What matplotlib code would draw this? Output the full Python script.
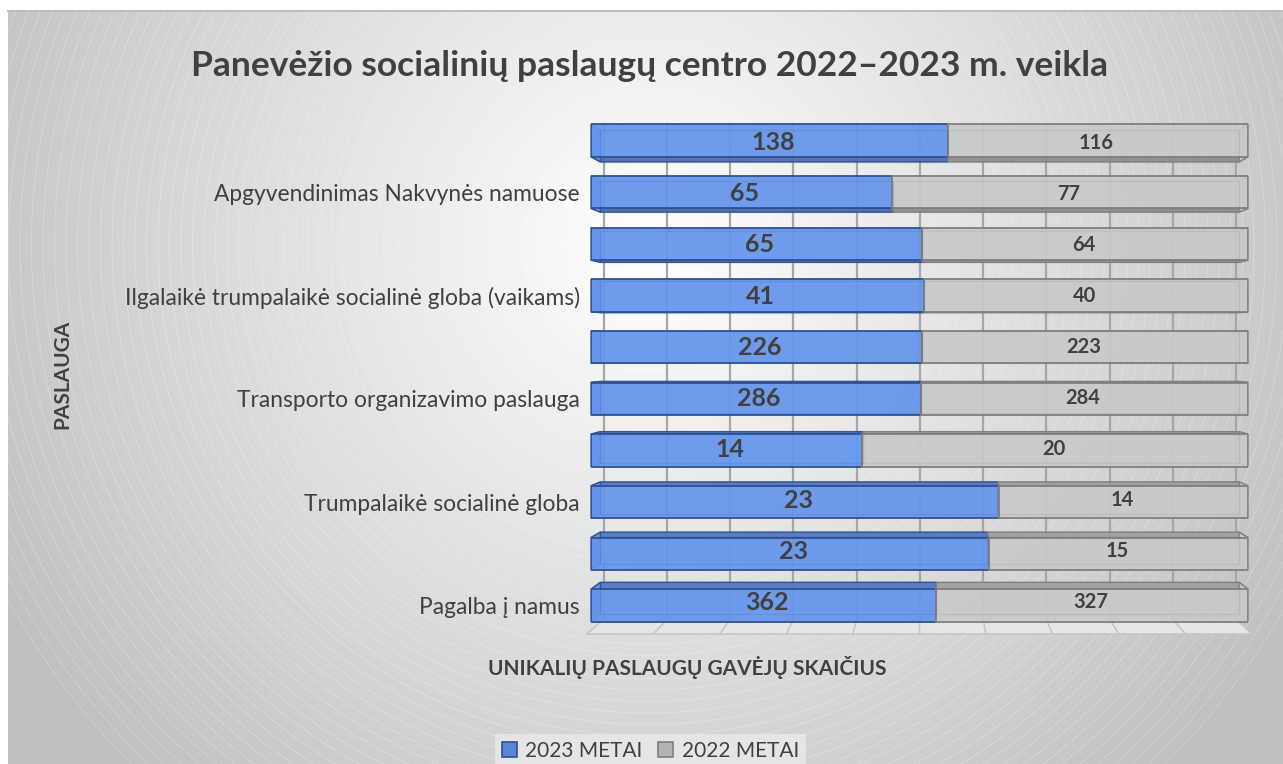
import numpy as np
import matplotlib
matplotlib.use("Agg")
import matplotlib.pyplot as plt
from matplotlib.patches import Polygon, Patch

plt.rcParams['font.family'] = ['Lato', 'Noto Sans', 'DejaVu Sans']

# ---- data (bottom to top; unlabeled rows are categories whose labels the chart skips)
categories = ["Pagalba į namus", "", "Trumpalaikė socialinė globa", "",
              "Transporto organizavimo paslauga", "",
              "Ilgalaikė trumpalaikė socialinė globa (vaikams)", "",
              "Apgyvendinimas Nakvynės namuose", ""]
values_2023 = [362, 23, 23, 14, 286, 226, 41, 65, 65, 138]
values_2022 = [327, 15, 14, 20, 284, 223, 40, 64, 77, 116]
series_names = ["2023 METAI", "2022 METAI"]
title = "Panevėžio socialinių paslaugų centro 2022–2023 m. veikla"
xlabel = "UNIKALIŲ PASLAUGŲ GAVĖJŲ SKAIČIUS"
ylabel = "PASLAUGA"

W, H = 1283, 764
INK = "#404040"
BLUE, BLUE_E, BLUE_TOP, BLUE_BOT = "#6595ec", "#2f528f", "#5279c4", "#4d6dab"
GREY, GREY_E, GREY_TOP, GREY_BOT = "#c9c9c9", "#7f7f7f", "#a0a0a0", "#8e8e8e"

fig = plt.figure(figsize=(W / 100, H / 100), dpi=100, facecolor="white")

# background panel: radial gradient with faint concentric rings
bg = fig.add_axes([0, 0, 1, 1], zorder=0)
yy, xx = np.mgrid[0:H, 0:W]
r = np.hypot(xx - 648, yy - 245)
RMAX = 732
shade = 1.0 - 0.247 * np.clip(r / RMAX, 0, 1)
d = (RMAX - r) % 11.5
d = np.minimum(d, 11.5 - d)
rings = np.exp(-(d / 0.6) ** 2) * 0.045 * np.clip((r - 150) / 450, 0.05, 1) * (r < RMAX + 1)
img = np.clip(shade + rings, 0, 1)
bg.imshow(img, cmap="gray", vmin=0, vmax=1, extent=(0, W, H, 0), aspect="auto", interpolation="bilinear")
bg.add_patch(plt.Rectangle((0, 0), 8, H, color="white", lw=0))
bg.add_patch(plt.Rectangle((0, 0), W, 10, color="white", lw=0))
bg.plot([8, W], [11, 11], color="#bdbdbd", lw=1.5)
bg.set_xlim(0, W); bg.set_ylim(H, 0); bg.axis("off")

# plot axes: the front plane of the 3D box
L, R = 591, 1248
TOP, BOT = 114.6, 636.5
ax = fig.add_axes([L / W, 1 - BOT / H, (R - L) / W, (BOT - TOP) / H], zorder=1)
ax.patch.set_alpha(0)
ax.set_xlim(0, 100)
ax.set_ylim(-0.6, 9.5)

VX, VY = 51.6, 5.08
D_BAR, D_WALL, D_FRONT = 0.028, 0.038, -0.0126

def proj(x, y, d):
    return x + (VX - x) * d, y + (VY - y) * d

# floor
FLOOR_Y = -0.48
floor = [proj(0, FLOOR_Y, D_FRONT), proj(100, FLOOR_Y, D_FRONT),
         proj(100, FLOOR_Y, D_WALL), proj(0, FLOOR_Y, D_WALL)]
ax.add_patch(Polygon(floor, closed=True, fc="#e6e6e6", ec="none", zorder=1, clip_on=False))
for g in range(0, 101, 10):
    a = proj(g, FLOOR_Y, D_WALL)
    b = proj(g, FLOOR_Y, D_FRONT)
    ax.plot([a[0], b[0]], [a[1], floor[0][1]], color="#c4c4c4", lw=1.1, zorder=2, clip_on=False)
    top = proj(g, 9.32, 0)
    ax.plot([a[0], a[0]], [a[1], top[1]], color="#a6a6a6", lw=1.6, zorder=2, clip_on=False)
ax.plot([floor[0][0], floor[1][0]], [floor[0][1], floor[1][1]], color="#c4c4c4", lw=1.1, zorder=2, clip_on=False)

# stacked 100 % bars
a23 = np.array(values_2023, float)
a22 = np.array(values_2022, float)
share23 = a23 / (a23 + a22) * 100
share22 = a22 / (a23 + a22) * 100
ypos = np.arange(len(categories))
HEIGHT = 0.63


def box_faces(x0, x1, y, fc, ec, ftop, fbot, left, right):
    y0, y1 = y - HEIGHT / 2, y + HEIGHT / 2
    kw = dict(closed=True, ec=ec, lw=1.0, zorder=3, clip_on=False, alpha=0.95)
    if y1 < VY:  # top face visible
        ax.add_patch(Polygon([(x0, y1), (x1, y1), proj(x1, y1, D_BAR), proj(x0, y1, D_BAR)], fc=ftop, **kw))
    if y0 > VY:  # bottom face visible
        ax.add_patch(Polygon([(x0, y0), (x1, y0), proj(x1, y0, D_BAR), proj(x0, y0, D_BAR)], fc=fbot, **kw))
    if left:
        ax.add_patch(Polygon([(x0, y0), (x0, y1), proj(x0, y1, D_BAR), proj(x0, y0, D_BAR)], fc=fc, **kw))
    if right:
        ax.add_patch(Polygon([(x1, y0), (x1, y1), proj(x1, y1, D_BAR), proj(x1, y0, D_BAR)], fc=fc, **kw))
    # back-face outline seen through the translucent box
    c = [proj(x0, y0, D_BAR), proj(x1, y0, D_BAR), proj(x1, y1, D_BAR), proj(x0, y1, D_BAR)]
    ax.add_patch(Polygon(c, closed=True, fc="none", ec=ec, lw=1.0, alpha=0.15, zorder=5, clip_on=False))


for i, y in enumerate(ypos):
    box_faces(0, share23[i], y, BLUE, BLUE_E, BLUE_TOP, BLUE_BOT, True, False)
    box_faces(share23[i], 100, y, GREY, GREY_E, GREY_TOP, GREY_BOT, False, True)

b1 = ax.barh(ypos, share23, height=HEIGHT, color=BLUE, edgecolor=BLUE_E, linewidth=1.4, alpha=0.93, zorder=4)
b2 = ax.barh(ypos, share22, left=share23, height=HEIGHT, color=GREY, edgecolor=GREY_E, linewidth=1.4, alpha=0.93, zorder=4)

for i, y in enumerate(ypos):
    ly = proj(0, y, 0.012)[1]
    ax.text(share23[i] / 2 + 0.5, ly, f"{values_2023[i]}", ha="center", va="center",
            fontsize=18, fontweight="bold", color=INK, zorder=6)
    ax.text(share23[i] + share22[i] / 2 - 0.2, ly, f"{values_2022[i]}", ha="center", va="center",
            fontsize=14.5, fontweight="bold", color=INK, zorder=6)

shown = [i for i, c in enumerate(categories) if c]
ax.set_yticks(ypos[shown], [categories[i] for i in shown], fontsize=16.4, color=INK)
ax.set_xticks([])
ax.tick_params(axis="y", length=0, pad=8)
for s in ax.spines.values():
    s.set_visible(False)

ax.set_xlabel(xlabel, fontsize=15, fontweight="bold", color=INK)
ax.xaxis.set_label_coords((687 - L) / (R - L), 1 - (668 - TOP) / (BOT - TOP), transform=ax.transAxes)
ax.xaxis.label.set_va("center")
ax.set_ylabel(ylabel, fontsize=15, fontweight="bold", color=INK)
ax.yaxis.set_label_coords((62 - L) / (R - L), 1 - (374 - TOP) / (BOT - TOP), transform=ax.transAxes)
ax.yaxis.label.set_va("center")

fig.text(650 / W, 1 - 66 / H, title, ha="center", va="center", fontsize=25.5, fontweight="bold", color=INK)

handles = [Patch(fc="#5b86d6", ec=BLUE_E, lw=1.2, label=series_names[0]),
           Patch(fc="#b3b3b3", ec=GREY_E, lw=1.2, label=series_names[1])]
leg = fig.legend(handles=handles, ncol=2, loc="center", bbox_to_anchor=(650.5 / W, 1 - 751 / H),
                 frameon=True, fontsize=15, labelcolor=INK, facecolor="#e9e9e9", edgecolor="none",
                 framealpha=0.85, fancybox=False, handlelength=0.72, handleheight=0.72, handletextpad=0.4,
                 columnspacing=0.75, borderpad=0.32, borderaxespad=0)
fig.savefig("out.png", dpi=100)
